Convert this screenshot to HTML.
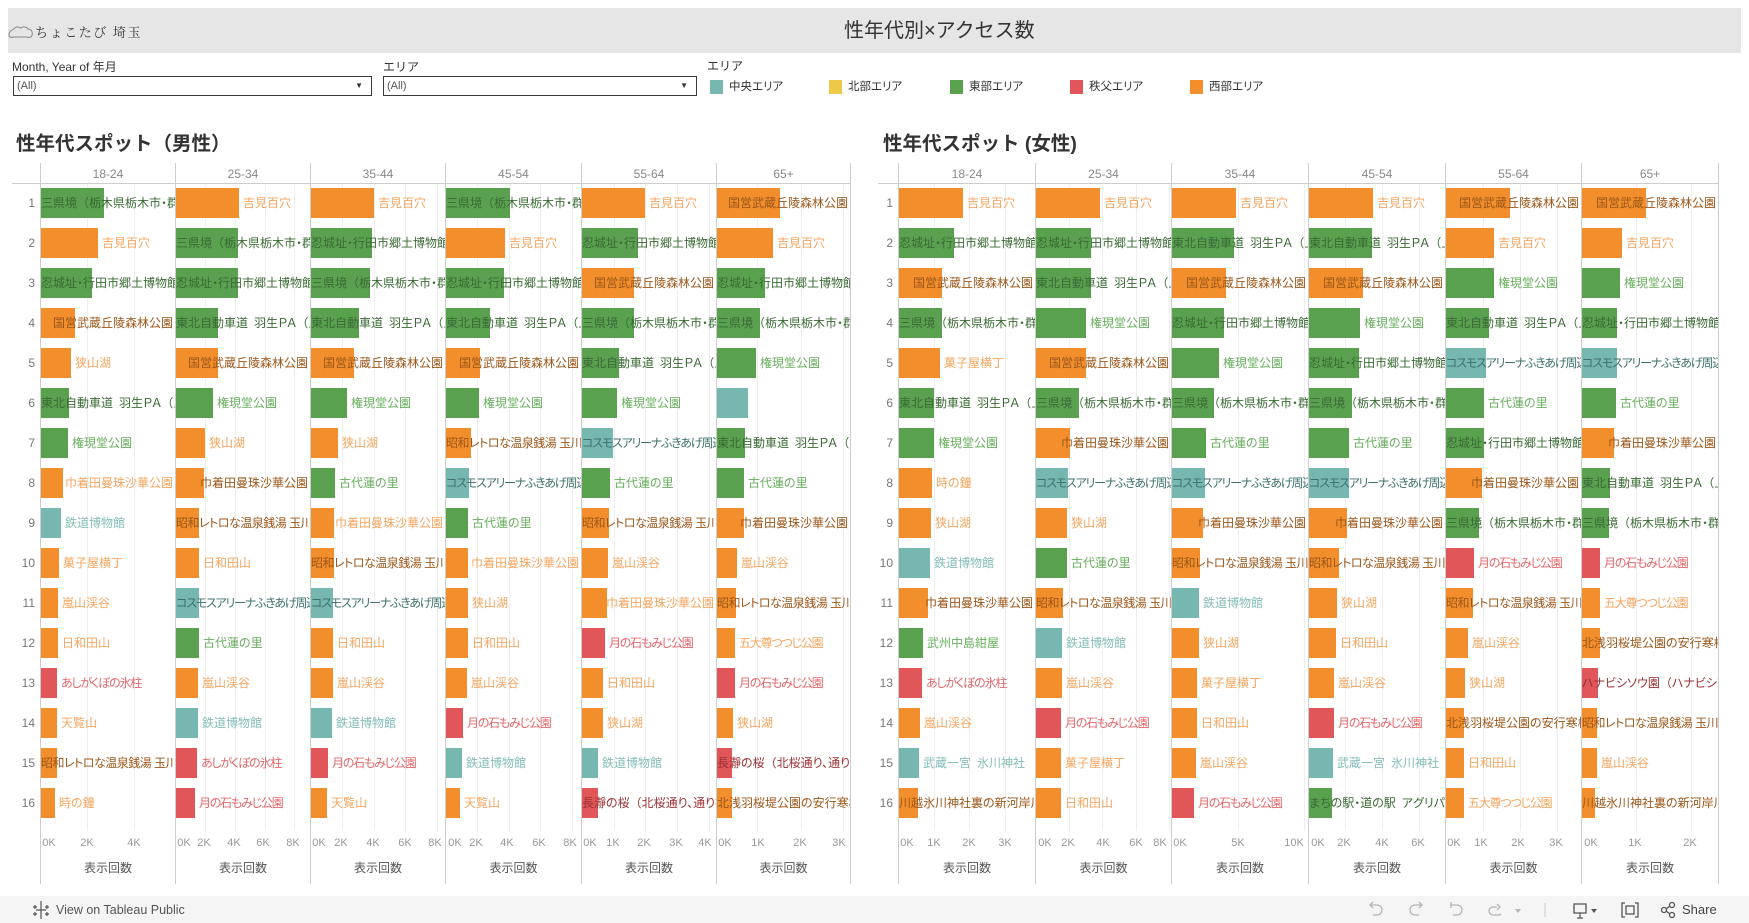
<!DOCTYPE html>
<html lang="ja">
<head>
<meta charset="utf-8">
<style>
*{box-sizing:border-box}
body{margin:0;width:1749px;height:923px;position:relative;overflow:hidden;background:#fff;font-family:"Liberation Sans","Noto Sans CJK JP",sans-serif;color:#333}
.a{position:absolute;white-space:nowrap}
.tb{position:absolute;left:8px;top:8px;width:1733px;height:45px;background:#e6e6e6}
.dd{position:absolute;top:76px;height:20px;border:1px solid #3a3a3a;background:#fff;font-size:11px;color:#555;line-height:18px;padding-left:3px}
.dd s{position:absolute;right:8px;top:0;text-decoration:none;font-size:8px;color:#333}
.sw{position:absolute;top:80px;width:13px;height:14px}
.lgt{position:absolute;top:78px;font-size:11.5px;line-height:18px;color:#333;font-feature-settings:"palt"}
.vl{position:absolute;top:163px;height:721px;width:1px;background:#cdcdcd}
.hl{position:absolute;top:183px;height:1px;background:#cdcdcd}
.gl{position:absolute;top:184px;height:647px;width:1px;background:#eeeeee}
.hd{position:absolute;top:164px;height:20px;line-height:20px;text-align:center;font-size:12px;color:#888}
.ax{position:absolute;top:859px;height:18px;line-height:18px;text-align:center;font-size:12px;color:#555}
.tk{position:absolute;top:836px;font-size:11px;line-height:14px;color:#999;transform:translateX(-50%);white-space:nowrap}
.rn{position:absolute;top:188px}
.rn div{height:40px;line-height:30px;text-align:right;font-size:12px;color:#777}
.col{position:absolute;top:188px}
.c{position:relative;height:30px;margin-bottom:10px;overflow:hidden}
.c b{position:absolute;left:0;top:0;height:30px;display:block;width:var(--w)}
.c p{margin:0;position:absolute;left:0;right:2px;top:0;height:30px;display:flex;white-space:nowrap;font-size:12px;line-height:30px;font-feature-settings:"palt"}
.c p i{flex:0 1 auto;min-width:0;display:block;width:calc(var(--w) + 4px)}
.c p span{flex:0 0 auto}
.c em{font-style:normal;font-feature-settings:normal}
.c .n{letter-spacing:-1.2px}
.c .m{letter-spacing:-0.5px}
.o{background:#f28e2b}.g{background:#59a14f}.t{background:#76b7b2}.r{background:#e15759}
.lo{color:#f5a55f}.lg{color:#68ae5e}.lt{color:#84bdb8}.lr{color:#e4686b}
.do{color:#9c5619}.dg{color:#3a6a34}.dt{color:#3d716d}.dr{color:#9b3033}
.bt{position:absolute;left:0;top:896px;width:1749px;height:27px;background:#f5f5f5}
</style>
</head>
<body>

<!-- Title bar -->
<div class="tb"></div>
<svg class="a" style="left:8px;top:24px" width="26" height="16" viewBox="0 0 26 16"><path d="M1 11 C1 7 4 6 6 5 C8 2 11 3 13 4 C15 2 19 3 20 5 C23 5 25 8 24 11 C24 13 21 14 19 13 L6 13 C3 14 1 13 1 11 Z" fill="none" stroke="#888" stroke-width="1"/></svg>
<div class="a" style="left:35px;top:22px;font-family:'Noto Serif CJK SC','Liberation Serif',serif;font-size:13px;letter-spacing:1.6px;line-height:20px;color:#333">ちょこたび 埼玉</div>
<div class="a" style="left:844px;top:18px;font-size:20px;line-height:26px;color:#333">性年代別×アクセス数</div>

<!-- Filters -->
<div class="a" style="left:12px;top:58px;font-size:12px;line-height:18px;color:#333">Month, Year of 年月</div>
<div class="dd" style="left:13px;width:359px">(All)<s>▼</s></div>
<div class="a" style="left:383px;top:58px;font-size:12px;line-height:18px;color:#333">エリア</div>
<div class="dd" style="left:383px;width:314px">(All)<s>▼</s></div>

<!-- Legend -->
<div class="a" style="left:707px;top:57px;font-size:12px;line-height:18px;color:#333">エリア</div>
<div class="sw t" style="left:710px"></div><div class="lgt" style="left:729px">中央エリア</div>
<div class="sw" style="left:829px;background:#edc948"></div><div class="lgt" style="left:848px">北部エリア</div>
<div class="sw g" style="left:950px"></div><div class="lgt" style="left:969px">東部エリア</div>
<div class="sw r" style="left:1070px"></div><div class="lgt" style="left:1089px">秩父エリア</div>
<div class="sw o" style="left:1190px"></div><div class="lgt" style="left:1209px">西部エリア</div>

<!-- Section titles -->
<div class="a" style="left:16px;top:132px;font-size:19.5px;font-weight:bold;line-height:24px;color:#333">性年代スポット（男性）</div>
<div class="a" style="left:883px;top:132px;font-size:19.5px;font-weight:bold;line-height:24px;color:#333">性年代スポット (女性)</div>

<!-- Gridlines male -->
<div class="gl" style="left:87px"></div><div class="gl" style="left:134px"></div>
<div class="gl" style="left:205px"></div><div class="gl" style="left:235px"></div><div class="gl" style="left:265px"></div><div class="gl" style="left:294px"></div>
<div class="gl" style="left:342px"></div><div class="gl" style="left:374px"></div><div class="gl" style="left:405px"></div><div class="gl" style="left:437px"></div>
<div class="gl" style="left:477px"></div><div class="gl" style="left:509px"></div><div class="gl" style="left:540px"></div><div class="gl" style="left:572px"></div>
<div class="gl" style="left:614px"></div><div class="gl" style="left:645px"></div><div class="gl" style="left:677px"></div><div class="gl" style="left:709px"></div>
<div class="gl" style="left:757px"></div><div class="gl" style="left:801px"></div><div class="gl" style="left:843px"></div>
<!-- Gridlines female -->
<div class="gl" style="left:934px"></div><div class="gl" style="left:969px"></div><div class="gl" style="left:1005px"></div>
<div class="gl" style="left:1069px"></div><div class="gl" style="left:1102px"></div><div class="gl" style="left:1136px"></div><div class="gl" style="left:1169px"></div>
<div class="gl" style="left:1238px"></div><div class="gl" style="left:1304px"></div>
<div class="gl" style="left:1345px"></div><div class="gl" style="left:1382px"></div><div class="gl" style="left:1419px"></div>
<div class="gl" style="left:1483px"></div><div class="gl" style="left:1520px"></div><div class="gl" style="left:1557px"></div>
<div class="gl" style="left:1636px"></div><div class="gl" style="left:1691px"></div>

<!-- Lines -->
<div class="hl" style="left:12px;width:839px"></div>
<div class="hl" style="left:878px;width:841px"></div>
<div class="vl" style="left:40px"></div><div class="vl" style="left:175px"></div><div class="vl" style="left:310px"></div><div class="vl" style="left:445px"></div><div class="vl" style="left:581px"></div><div class="vl" style="left:716px"></div><div class="vl" style="left:850px"></div>
<div class="vl" style="left:898px"></div><div class="vl" style="left:1035px"></div><div class="vl" style="left:1171px"></div><div class="vl" style="left:1308px"></div><div class="vl" style="left:1445px"></div><div class="vl" style="left:1581px"></div><div class="vl" style="left:1718px"></div>

<!-- Headers -->
<div class="hd" style="left:41px;width:134px">18-24</div>
<div class="hd" style="left:176px;width:134px">25-34</div>
<div class="hd" style="left:311px;width:134px">35-44</div>
<div class="hd" style="left:446px;width:135px">45-54</div>
<div class="hd" style="left:582px;width:134px">55-64</div>
<div class="hd" style="left:717px;width:133px">65+</div>
<div class="hd" style="left:899px;width:136px">18-24</div>
<div class="hd" style="left:1036px;width:135px">25-34</div>
<div class="hd" style="left:1172px;width:136px">35-44</div>
<div class="hd" style="left:1309px;width:136px">45-54</div>
<div class="hd" style="left:1446px;width:135px">55-64</div>
<div class="hd" style="left:1582px;width:136px">65+</div>

<!-- Row numbers -->
<div class="rn" style="left:10px;width:25px"><div>1</div><div>2</div><div>3</div><div>4</div><div>5</div><div>6</div><div>7</div><div>8</div><div>9</div><div>10</div><div>11</div><div>12</div><div>13</div><div>14</div><div>15</div><div>16</div></div>
<div class="rn" style="left:872px;width:21px"><div>1</div><div>2</div><div>3</div><div>4</div><div>5</div><div>6</div><div>7</div><div>8</div><div>9</div><div>10</div><div>11</div><div>12</div><div>13</div><div>14</div><div>15</div><div>16</div></div>

<!-- Male 18-24 -->
<div class="col" style="left:41px;width:134px">
<div class="c" style="--w:63px"><b class="g"></b><p><i></i><span class="dg">三県境<em>（</em>栃木県栃木市・群馬県板倉町・埼玉県加須市）</span></p></div>
<div class="c" style="--w:57px"><b class="o"></b><p><i></i><span class="lo">吉見百穴</span></p></div>
<div class="c" style="--w:51px"><b class="g"></b><p><i></i><span class="dg">忍城址・行田市郷土博物館</span></p></div>
<div class="c" style="--w:34px"><b class="o"></b><p><i></i><span class="do">国営武蔵丘陵森林公園</span></p></div>
<div class="c" style="--w:30px"><b class="o"></b><p><i></i><span class="lo">狭山湖</span></p></div>
<div class="c" style="--w:28px"><b class="g"></b><p><i></i><span class="dg">東北自動車道&ensp;羽生ＰＡ<em>（</em>上り）</span></p></div>
<div class="c" style="--w:27px"><b class="g"></b><p><i></i><span class="lg">権現堂公園</span></p></div>
<div class="c" style="--w:22px"><b class="o"></b><p><i></i><span class="lo">巾着田曼珠沙華公園</span></p></div>
<div class="c" style="--w:20px"><b class="t"></b><p><i></i><span class="lt">鉄道博物館</span></p></div>
<div class="c" style="--w:18px"><b class="o"></b><p><i></i><span class="lo">菓子屋横丁</span></p></div>
<div class="c" style="--w:17px"><b class="o"></b><p><i></i><span class="lo">嵐山渓谷</span></p></div>
<div class="c" style="--w:17px"><b class="o"></b><p><i></i><span class="lo">日和田山</span></p></div>
<div class="c" style="--w:16px"><b class="r"></b><p><i></i><span class="lr n">あしがくぼの氷柱</span></p></div>
<div class="c" style="--w:16px"><b class="o"></b><p><i></i><span class="lo">天覧山</span></p></div>
<div class="c" style="--w:16px"><b class="o"></b><p><i></i><span class="do m">昭和レトロな温泉銭湯 玉川温泉</span></p></div>
<div class="c" style="--w:14px"><b class="o"></b><p><i></i><span class="lo">時の鐘</span></p></div>
</div>

<!-- Male 25-34 -->
<div class="col" style="left:176px;width:134px">
<div class="c" style="--w:63px"><b class="o"></b><p><i></i><span class="lo">吉見百穴</span></p></div>
<div class="c" style="--w:62px"><b class="g"></b><p><i></i><span class="dg">三県境<em>（</em>栃木県栃木市・群馬県板倉町・埼玉県加須市）</span></p></div>
<div class="c" style="--w:62px"><b class="g"></b><p><i></i><span class="dg">忍城址・行田市郷土博物館</span></p></div>
<div class="c" style="--w:42px"><b class="g"></b><p><i></i><span class="dg">東北自動車道&ensp;羽生ＰＡ<em>（</em>上り）</span></p></div>
<div class="c" style="--w:42px"><b class="o"></b><p><i></i><span class="do">国営武蔵丘陵森林公園</span></p></div>
<div class="c" style="--w:37px"><b class="g"></b><p><i></i><span class="lg">権現堂公園</span></p></div>
<div class="c" style="--w:29px"><b class="o"></b><p><i></i><span class="lo">狭山湖</span></p></div>
<div class="c" style="--w:28px"><b class="o"></b><p><i></i><span class="do">巾着田曼珠沙華公園</span></p></div>
<div class="c" style="--w:23px"><b class="o"></b><p><i></i><span class="do m">昭和レトロな温泉銭湯 玉川温泉</span></p></div>
<div class="c" style="--w:23px"><b class="o"></b><p><i></i><span class="lo">日和田山</span></p></div>
<div class="c" style="--w:23px"><b class="t"></b><p><i></i><span class="dt n">コスモスアリーナふきあげ周辺</span></p></div>
<div class="c" style="--w:23px"><b class="g"></b><p><i></i><span class="lg">古代蓮の里</span></p></div>
<div class="c" style="--w:22px"><b class="o"></b><p><i></i><span class="lo">嵐山渓谷</span></p></div>
<div class="c" style="--w:22px"><b class="t"></b><p><i></i><span class="lt">鉄道博物館</span></p></div>
<div class="c" style="--w:21px"><b class="r"></b><p><i></i><span class="lr n">あしがくぼの氷柱</span></p></div>
<div class="c" style="--w:19px"><b class="r"></b><p><i></i><span class="lr n">月の石もみじ公園</span></p></div>
</div>

<!-- Male 35-44 -->
<div class="col" style="left:311px;width:134px">
<div class="c" style="--w:63px"><b class="o"></b><p><i></i><span class="lo">吉見百穴</span></p></div>
<div class="c" style="--w:61px"><b class="g"></b><p><i></i><span class="dg">忍城址・行田市郷土博物館</span></p></div>
<div class="c" style="--w:59px"><b class="g"></b><p><i></i><span class="dg">三県境<em>（</em>栃木県栃木市・群馬県板倉町・埼玉県加須市）</span></p></div>
<div class="c" style="--w:48px"><b class="g"></b><p><i></i><span class="dg">東北自動車道&ensp;羽生ＰＡ<em>（</em>上り）</span></p></div>
<div class="c" style="--w:43px"><b class="o"></b><p><i></i><span class="do">国営武蔵丘陵森林公園</span></p></div>
<div class="c" style="--w:36px"><b class="g"></b><p><i></i><span class="lg">権現堂公園</span></p></div>
<div class="c" style="--w:27px"><b class="o"></b><p><i></i><span class="lo">狭山湖</span></p></div>
<div class="c" style="--w:24px"><b class="g"></b><p><i></i><span class="lg">古代蓮の里</span></p></div>
<div class="c" style="--w:23px"><b class="o"></b><p><i></i><span class="lo">巾着田曼珠沙華公園</span></p></div>
<div class="c" style="--w:23px"><b class="o"></b><p><i></i><span class="do m">昭和レトロな温泉銭湯 玉川温泉</span></p></div>
<div class="c" style="--w:22px"><b class="t"></b><p><i></i><span class="dt n">コスモスアリーナふきあげ周辺</span></p></div>
<div class="c" style="--w:22px"><b class="o"></b><p><i></i><span class="lo">日和田山</span></p></div>
<div class="c" style="--w:22px"><b class="o"></b><p><i></i><span class="lo">嵐山渓谷</span></p></div>
<div class="c" style="--w:21px"><b class="t"></b><p><i></i><span class="lt">鉄道博物館</span></p></div>
<div class="c" style="--w:17px"><b class="r"></b><p><i></i><span class="lr n">月の石もみじ公園</span></p></div>
<div class="c" style="--w:16px"><b class="o"></b><p><i></i><span class="lo">天覧山</span></p></div>
</div>

<!-- Male 45-54 -->
<div class="col" style="left:446px;width:135px">
<div class="c" style="--w:64px"><b class="g"></b><p><i></i><span class="dg">三県境<em>（</em>栃木県栃木市・群馬県板倉町・埼玉県加須市）</span></p></div>
<div class="c" style="--w:59px"><b class="o"></b><p><i></i><span class="lo">吉見百穴</span></p></div>
<div class="c" style="--w:58px"><b class="g"></b><p><i></i><span class="dg">忍城址・行田市郷土博物館</span></p></div>
<div class="c" style="--w:44px"><b class="g"></b><p><i></i><span class="dg">東北自動車道&ensp;羽生ＰＡ<em>（</em>上り）</span></p></div>
<div class="c" style="--w:34px"><b class="o"></b><p><i></i><span class="do">国営武蔵丘陵森林公園</span></p></div>
<div class="c" style="--w:33px"><b class="g"></b><p><i></i><span class="lg">権現堂公園</span></p></div>
<div class="c" style="--w:25px"><b class="o"></b><p><i></i><span class="do m">昭和レトロな温泉銭湯 玉川温泉</span></p></div>
<div class="c" style="--w:23px"><b class="t"></b><p><i></i><span class="dt n">コスモスアリーナふきあげ周辺</span></p></div>
<div class="c" style="--w:22px"><b class="g"></b><p><i></i><span class="lg">古代蓮の里</span></p></div>
<div class="c" style="--w:22px"><b class="o"></b><p><i></i><span class="lo">巾着田曼珠沙華公園</span></p></div>
<div class="c" style="--w:22px"><b class="o"></b><p><i></i><span class="lo">狭山湖</span></p></div>
<div class="c" style="--w:22px"><b class="o"></b><p><i></i><span class="lo">日和田山</span></p></div>
<div class="c" style="--w:21px"><b class="o"></b><p><i></i><span class="lo">嵐山渓谷</span></p></div>
<div class="c" style="--w:17px"><b class="r"></b><p><i></i><span class="lr n">月の石もみじ公園</span></p></div>
<div class="c" style="--w:16px"><b class="t"></b><p><i></i><span class="lt">鉄道博物館</span></p></div>
<div class="c" style="--w:14px"><b class="o"></b><p><i></i><span class="lo">天覧山</span></p></div>
</div>

<!-- Male 55-64 -->
<div class="col" style="left:582px;width:134px">
<div class="c" style="--w:63px"><b class="o"></b><p><i></i><span class="lo">吉見百穴</span></p></div>
<div class="c" style="--w:56px"><b class="g"></b><p><i></i><span class="dg">忍城址・行田市郷土博物館</span></p></div>
<div class="c" style="--w:52px"><b class="o"></b><p><i></i><span class="do">国営武蔵丘陵森林公園</span></p></div>
<div class="c" style="--w:52px"><b class="g"></b><p><i></i><span class="dg">三県境<em>（</em>栃木県栃木市・群馬県板倉町・埼玉県加須市）</span></p></div>
<div class="c" style="--w:37px"><b class="g"></b><p><i></i><span class="dg">東北自動車道&ensp;羽生ＰＡ<em>（</em>上り）</span></p></div>
<div class="c" style="--w:35px"><b class="g"></b><p><i></i><span class="lg">権現堂公園</span></p></div>
<div class="c" style="--w:31px"><b class="t"></b><p><i></i><span class="dt n">コスモスアリーナふきあげ周辺</span></p></div>
<div class="c" style="--w:28px"><b class="g"></b><p><i></i><span class="lg">古代蓮の里</span></p></div>
<div class="c" style="--w:27px"><b class="o"></b><p><i></i><span class="do m">昭和レトロな温泉銭湯 玉川温泉</span></p></div>
<div class="c" style="--w:26px"><b class="o"></b><p><i></i><span class="lo">嵐山渓谷</span></p></div>
<div class="c" style="--w:25px"><b class="o"></b><p><i></i><span class="lo">巾着田曼珠沙華公園</span></p></div>
<div class="c" style="--w:23px"><b class="r"></b><p><i></i><span class="lr n">月の石もみじ公園</span></p></div>
<div class="c" style="--w:21px"><b class="o"></b><p><i></i><span class="lo">日和田山</span></p></div>
<div class="c" style="--w:21px"><b class="o"></b><p><i></i><span class="lo">狭山湖</span></p></div>
<div class="c" style="--w:16px"><b class="t"></b><p><i></i><span class="lt">鉄道博物館</span></p></div>
<div class="c" style="--w:16px"><b class="r"></b><p><i></i><span class="dr">長瀞の桜<em>（</em>北桜通り、通り抜け）</span></p></div>
</div>

<!-- Male 65+ -->
<div class="col" style="left:717px;width:133px">
<div class="c" style="--w:63px"><b class="o"></b><p><i></i><span class="do">国営武蔵丘陵森林公園</span></p></div>
<div class="c" style="--w:56px"><b class="o"></b><p><i></i><span class="lo">吉見百穴</span></p></div>
<div class="c" style="--w:48px"><b class="g"></b><p><i></i><span class="dg">忍城址・行田市郷土博物館</span></p></div>
<div class="c" style="--w:43px"><b class="g"></b><p><i></i><span class="dg">三県境<em>（</em>栃木県栃木市・群馬県板倉町・埼玉県加須市）</span></p></div>
<div class="c" style="--w:39px"><b class="g"></b><p><i></i><span class="lg">権現堂公園</span></p></div>
<div class="c" style="--w:31px"><b class="t"></b></div>
<div class="c" style="--w:28px"><b class="g"></b><p><i></i><span class="dg">東北自動車道&ensp;羽生ＰＡ<em>（</em>上り）</span></p></div>
<div class="c" style="--w:27px"><b class="g"></b><p><i></i><span class="lg">古代蓮の里</span></p></div>
<div class="c" style="--w:27px"><b class="o"></b><p><i></i><span class="do">巾着田曼珠沙華公園</span></p></div>
<div class="c" style="--w:20px"><b class="o"></b><p><i></i><span class="lo">嵐山渓谷</span></p></div>
<div class="c" style="--w:19px"><b class="o"></b><p><i></i><span class="do m">昭和レトロな温泉銭湯 玉川温泉</span></p></div>
<div class="c" style="--w:18px"><b class="o"></b><p><i></i><span class="lo n">五大尊つつじ公園</span></p></div>
<div class="c" style="--w:18px"><b class="r"></b><p><i></i><span class="lr n">月の石もみじ公園</span></p></div>
<div class="c" style="--w:16px"><b class="o"></b><p><i></i><span class="lo">狭山湖</span></p></div>
<div class="c" style="--w:15px"><b class="r"></b><p><i></i><span class="dr">長瀞の桜<em>（</em>北桜通り、通り抜け）</span></p></div>
<div class="c" style="--w:15px"><b class="o"></b><p><i></i><span class="do">北浅羽桜堤公園の安行寒桜</span></p></div>
</div>

<!-- Female 18-24 -->
<div class="col" style="left:899px;width:136px">
<div class="c" style="--w:64px"><b class="o"></b><p><i></i><span class="lo">吉見百穴</span></p></div>
<div class="c" style="--w:55px"><b class="g"></b><p><i></i><span class="dg">忍城址・行田市郷土博物館</span></p></div>
<div class="c" style="--w:43px"><b class="o"></b><p><i></i><span class="do">国営武蔵丘陵森林公園</span></p></div>
<div class="c" style="--w:43px"><b class="g"></b><p><i></i><span class="dg">三県境<em>（</em>栃木県栃木市・群馬県板倉町・埼玉県加須市）</span></p></div>
<div class="c" style="--w:41px"><b class="o"></b><p><i></i><span class="lo">菓子屋横丁</span></p></div>
<div class="c" style="--w:35px"><b class="g"></b><p><i></i><span class="dg">東北自動車道&ensp;羽生ＰＡ<em>（</em>上り）</span></p></div>
<div class="c" style="--w:35px"><b class="g"></b><p><i></i><span class="lg">権現堂公園</span></p></div>
<div class="c" style="--w:33px"><b class="o"></b><p><i></i><span class="lo">時の鐘</span></p></div>
<div class="c" style="--w:32px"><b class="o"></b><p><i></i><span class="lo">狭山湖</span></p></div>
<div class="c" style="--w:31px"><b class="t"></b><p><i></i><span class="lt">鉄道博物館</span></p></div>
<div class="c" style="--w:29px"><b class="o"></b><p><i></i><span class="do">巾着田曼珠沙華公園</span></p></div>
<div class="c" style="--w:24px"><b class="g"></b><p><i></i><span class="lg">武州中島紺屋</span></p></div>
<div class="c" style="--w:23px"><b class="r"></b><p><i></i><span class="lr n">あしがくぼの氷柱</span></p></div>
<div class="c" style="--w:21px"><b class="o"></b><p><i></i><span class="lo">嵐山渓谷</span></p></div>
<div class="c" style="--w:20px"><b class="t"></b><p><i></i><span class="lt">武蔵一宮&ensp;氷川神社</span></p></div>
<div class="c" style="--w:19px"><b class="o"></b><p><i></i><span class="do">川越氷川神社裏の新河岸川</span></p></div>
</div>

<!-- Female 25-34 -->
<div class="col" style="left:1036px;width:135px">
<div class="c" style="--w:64px"><b class="o"></b><p><i></i><span class="lo">吉見百穴</span></p></div>
<div class="c" style="--w:55px"><b class="g"></b><p><i></i><span class="dg">忍城址・行田市郷土博物館</span></p></div>
<div class="c" style="--w:55px"><b class="g"></b><p><i></i><span class="dg">東北自動車道&ensp;羽生ＰＡ<em>（</em>上り）</span></p></div>
<div class="c" style="--w:50px"><b class="g"></b><p><i></i><span class="lg">権現堂公園</span></p></div>
<div class="c" style="--w:50px"><b class="o"></b><p><i></i><span class="do">国営武蔵丘陵森林公園</span></p></div>
<div class="c" style="--w:43px"><b class="g"></b><p><i></i><span class="dg">三県境<em>（</em>栃木県栃木市・群馬県板倉町・埼玉県加須市）</span></p></div>
<div class="c" style="--w:34px"><b class="o"></b><p><i></i><span class="do">巾着田曼珠沙華公園</span></p></div>
<div class="c" style="--w:32px"><b class="t"></b><p><i></i><span class="dt n">コスモスアリーナふきあげ周辺</span></p></div>
<div class="c" style="--w:31px"><b class="o"></b><p><i></i><span class="lo">狭山湖</span></p></div>
<div class="c" style="--w:31px"><b class="g"></b><p><i></i><span class="lg">古代蓮の里</span></p></div>
<div class="c" style="--w:27px"><b class="o"></b><p><i></i><span class="do m">昭和レトロな温泉銭湯 玉川温泉</span></p></div>
<div class="c" style="--w:26px"><b class="t"></b><p><i></i><span class="lt">鉄道博物館</span></p></div>
<div class="c" style="--w:26px"><b class="o"></b><p><i></i><span class="lo">嵐山渓谷</span></p></div>
<div class="c" style="--w:25px"><b class="r"></b><p><i></i><span class="lr n">月の石もみじ公園</span></p></div>
<div class="c" style="--w:25px"><b class="o"></b><p><i></i><span class="lo">菓子屋横丁</span></p></div>
<div class="c" style="--w:25px"><b class="o"></b><p><i></i><span class="lo">日和田山</span></p></div>
</div>

<!-- Female 35-44 -->
<div class="col" style="left:1172px;width:136px">
<div class="c" style="--w:64px"><b class="o"></b><p><i></i><span class="lo">吉見百穴</span></p></div>
<div class="c" style="--w:62px"><b class="g"></b><p><i></i><span class="dg">東北自動車道&ensp;羽生ＰＡ<em>（</em>上り）</span></p></div>
<div class="c" style="--w:54px"><b class="o"></b><p><i></i><span class="do">国営武蔵丘陵森林公園</span></p></div>
<div class="c" style="--w:52px"><b class="g"></b><p><i></i><span class="dg">忍城址・行田市郷土博物館</span></p></div>
<div class="c" style="--w:47px"><b class="g"></b><p><i></i><span class="lg">権現堂公園</span></p></div>
<div class="c" style="--w:42px"><b class="g"></b><p><i></i><span class="dg">三県境<em>（</em>栃木県栃木市・群馬県板倉町・埼玉県加須市）</span></p></div>
<div class="c" style="--w:34px"><b class="g"></b><p><i></i><span class="lg">古代蓮の里</span></p></div>
<div class="c" style="--w:33px"><b class="t"></b><p><i></i><span class="dt n">コスモスアリーナふきあげ周辺</span></p></div>
<div class="c" style="--w:31px"><b class="o"></b><p><i></i><span class="do">巾着田曼珠沙華公園</span></p></div>
<div class="c" style="--w:28px"><b class="o"></b><p><i></i><span class="do m">昭和レトロな温泉銭湯 玉川温泉</span></p></div>
<div class="c" style="--w:27px"><b class="t"></b><p><i></i><span class="lt">鉄道博物館</span></p></div>
<div class="c" style="--w:27px"><b class="o"></b><p><i></i><span class="lo">狭山湖</span></p></div>
<div class="c" style="--w:25px"><b class="o"></b><p><i></i><span class="lo">菓子屋横丁</span></p></div>
<div class="c" style="--w:25px"><b class="o"></b><p><i></i><span class="lo">日和田山</span></p></div>
<div class="c" style="--w:24px"><b class="o"></b><p><i></i><span class="lo">嵐山渓谷</span></p></div>
<div class="c" style="--w:22px"><b class="r"></b><p><i></i><span class="lr n">月の石もみじ公園</span></p></div>
</div>

<!-- Female 45-54 -->
<div class="col" style="left:1309px;width:136px">
<div class="c" style="--w:64px"><b class="o"></b><p><i></i><span class="lo">吉見百穴</span></p></div>
<div class="c" style="--w:63px"><b class="g"></b><p><i></i><span class="dg">東北自動車道&ensp;羽生ＰＡ<em>（</em>上り）</span></p></div>
<div class="c" style="--w:54px"><b class="o"></b><p><i></i><span class="do">国営武蔵丘陵森林公園</span></p></div>
<div class="c" style="--w:51px"><b class="g"></b><p><i></i><span class="lg">権現堂公園</span></p></div>
<div class="c" style="--w:50px"><b class="g"></b><p><i></i><span class="dg">忍城址・行田市郷土博物館</span></p></div>
<div class="c" style="--w:43px"><b class="g"></b><p><i></i><span class="dg">三県境<em>（</em>栃木県栃木市・群馬県板倉町・埼玉県加須市）</span></p></div>
<div class="c" style="--w:40px"><b class="g"></b><p><i></i><span class="lg">古代蓮の里</span></p></div>
<div class="c" style="--w:40px"><b class="t"></b><p><i></i><span class="dt n">コスモスアリーナふきあげ周辺</span></p></div>
<div class="c" style="--w:38px"><b class="o"></b><p><i></i><span class="do">巾着田曼珠沙華公園</span></p></div>
<div class="c" style="--w:30px"><b class="o"></b><p><i></i><span class="do m">昭和レトロな温泉銭湯 玉川温泉</span></p></div>
<div class="c" style="--w:28px"><b class="o"></b><p><i></i><span class="lo">狭山湖</span></p></div>
<div class="c" style="--w:27px"><b class="o"></b><p><i></i><span class="lo">日和田山</span></p></div>
<div class="c" style="--w:25px"><b class="o"></b><p><i></i><span class="lo">嵐山渓谷</span></p></div>
<div class="c" style="--w:25px"><b class="r"></b><p><i></i><span class="lr n">月の石もみじ公園</span></p></div>
<div class="c" style="--w:24px"><b class="t"></b><p><i></i><span class="lt">武蔵一宮&ensp;氷川神社</span></p></div>
<div class="c" style="--w:23px"><b class="g"></b><p><i></i><span class="dg">まちの駅・道の駅&ensp;アグリパーク</span></p></div>
</div>

<!-- Female 55-64 -->
<div class="col" style="left:1446px;width:135px">
<div class="c" style="--w:64px"><b class="o"></b><p><i></i><span class="do">国営武蔵丘陵森林公園</span></p></div>
<div class="c" style="--w:48px"><b class="o"></b><p><i></i><span class="lo">吉見百穴</span></p></div>
<div class="c" style="--w:48px"><b class="g"></b><p><i></i><span class="lg">権現堂公園</span></p></div>
<div class="c" style="--w:43px"><b class="g"></b><p><i></i><span class="dg">東北自動車道&ensp;羽生ＰＡ<em>（</em>上り）</span></p></div>
<div class="c" style="--w:40px"><b class="t"></b><p><i></i><span class="dt n">コスモスアリーナふきあげ周辺</span></p></div>
<div class="c" style="--w:38px"><b class="g"></b><p><i></i><span class="lg">古代蓮の里</span></p></div>
<div class="c" style="--w:38px"><b class="g"></b><p><i></i><span class="dg">忍城址・行田市郷土博物館</span></p></div>
<div class="c" style="--w:36px"><b class="o"></b><p><i></i><span class="do">巾着田曼珠沙華公園</span></p></div>
<div class="c" style="--w:33px"><b class="g"></b><p><i></i><span class="dg">三県境<em>（</em>栃木県栃木市・群馬県板倉町・埼玉県加須市）</span></p></div>
<div class="c" style="--w:28px"><b class="r"></b><p><i></i><span class="lr n">月の石もみじ公園</span></p></div>
<div class="c" style="--w:27px"><b class="o"></b><p><i></i><span class="do m">昭和レトロな温泉銭湯 玉川温泉</span></p></div>
<div class="c" style="--w:22px"><b class="o"></b><p><i></i><span class="lo">嵐山渓谷</span></p></div>
<div class="c" style="--w:19px"><b class="o"></b><p><i></i><span class="lo">狭山湖</span></p></div>
<div class="c" style="--w:18px"><b class="o"></b><p><i></i><span class="do">北浅羽桜堤公園の安行寒桜</span></p></div>
<div class="c" style="--w:18px"><b class="o"></b><p><i></i><span class="lo">日和田山</span></p></div>
<div class="c" style="--w:18px"><b class="o"></b><p><i></i><span class="lo n">五大尊つつじ公園</span></p></div>
</div>

<!-- Female 65+ -->
<div class="col" style="left:1582px;width:136px">
<div class="c" style="--w:64px"><b class="o"></b><p><i></i><span class="do">国営武蔵丘陵森林公園</span></p></div>
<div class="c" style="--w:40px"><b class="o"></b><p><i></i><span class="lo">吉見百穴</span></p></div>
<div class="c" style="--w:38px"><b class="g"></b><p><i></i><span class="lg">権現堂公園</span></p></div>
<div class="c" style="--w:35px"><b class="g"></b><p><i></i><span class="dg">忍城址・行田市郷土博物館</span></p></div>
<div class="c" style="--w:35px"><b class="t"></b><p><i></i><span class="dt n">コスモスアリーナふきあげ周辺</span></p></div>
<div class="c" style="--w:34px"><b class="g"></b><p><i></i><span class="lg">古代蓮の里</span></p></div>
<div class="c" style="--w:32px"><b class="o"></b><p><i></i><span class="do">巾着田曼珠沙華公園</span></p></div>
<div class="c" style="--w:28px"><b class="g"></b><p><i></i><span class="dg">東北自動車道&ensp;羽生ＰＡ<em>（</em>上り）</span></p></div>
<div class="c" style="--w:27px"><b class="g"></b><p><i></i><span class="dg">三県境<em>（</em>栃木県栃木市・群馬県板倉町・埼玉県加須市）</span></p></div>
<div class="c" style="--w:18px"><b class="r"></b><p><i></i><span class="lr n">月の石もみじ公園</span></p></div>
<div class="c" style="--w:18px"><b class="o"></b><p><i></i><span class="lo n">五大尊つつじ公園</span></p></div>
<div class="c" style="--w:18px"><b class="o"></b><p><i></i><span class="do">北浅羽桜堤公園の安行寒桜</span></p></div>
<div class="c" style="--w:16px"><b class="r"></b><p><i></i><span class="dr">ハナビシソウ園<em>（</em>ハナビシソウ祭り）</span></p></div>
<div class="c" style="--w:15px"><b class="o"></b><p><i></i><span class="do m">昭和レトロな温泉銭湯 玉川温泉</span></p></div>
<div class="c" style="--w:15px"><b class="o"></b><p><i></i><span class="lo">嵐山渓谷</span></p></div>
<div class="c" style="--w:13px"><b class="o"></b><p><i></i><span class="do">川越氷川神社裏の新河岸川</span></p></div>
</div>

<!-- Tick labels male -->
<div class="tk" style="left:49px">0K</div><div class="tk" style="left:87px">2K</div><div class="tk" style="left:134px">4K</div>
<div class="tk" style="left:184px">0K</div><div class="tk" style="left:204px">2K</div><div class="tk" style="left:234px">4K</div><div class="tk" style="left:263px">6K</div><div class="tk" style="left:293px">8K</div>
<div class="tk" style="left:319px">0K</div><div class="tk" style="left:341px">2K</div><div class="tk" style="left:373px">4K</div><div class="tk" style="left:405px">6K</div><div class="tk" style="left:435px">8K</div>
<div class="tk" style="left:455px">0K</div><div class="tk" style="left:476px">2K</div><div class="tk" style="left:507px">4K</div><div class="tk" style="left:539px">6K</div><div class="tk" style="left:570px">8K</div>
<div class="tk" style="left:590px">0K</div><div class="tk" style="left:613px">1K</div><div class="tk" style="left:644px">2K</div><div class="tk" style="left:676px">3K</div><div class="tk" style="left:705px">4K</div>
<div class="tk" style="left:725px">0K</div><div class="tk" style="left:758px">1K</div><div class="tk" style="left:800px">2K</div><div class="tk" style="left:839px">3K</div>
<!-- Tick labels female -->
<div class="tk" style="left:907px">0K</div><div class="tk" style="left:934px">1K</div><div class="tk" style="left:969px">2K</div><div class="tk" style="left:1005px">3K</div>
<div class="tk" style="left:1045px">0K</div><div class="tk" style="left:1068px">2K</div><div class="tk" style="left:1103px">4K</div><div class="tk" style="left:1136px">6K</div><div class="tk" style="left:1160px">8K</div>
<div class="tk" style="left:1180px">0K</div><div class="tk" style="left:1238px">5K</div><div class="tk" style="left:1294px">10K</div>
<div class="tk" style="left:1318px">0K</div><div class="tk" style="left:1344px">2K</div><div class="tk" style="left:1382px">4K</div><div class="tk" style="left:1418px">6K</div>
<div class="tk" style="left:1454px">0K</div><div class="tk" style="left:1481px">1K</div><div class="tk" style="left:1518px">2K</div><div class="tk" style="left:1556px">3K</div>
<div class="tk" style="left:1591px">0K</div><div class="tk" style="left:1635px">1K</div><div class="tk" style="left:1690px">2K</div>

<!-- Axis titles -->
<div class="ax" style="left:41px;width:134px">表示回数</div>
<div class="ax" style="left:176px;width:134px">表示回数</div>
<div class="ax" style="left:311px;width:134px">表示回数</div>
<div class="ax" style="left:446px;width:135px">表示回数</div>
<div class="ax" style="left:582px;width:134px">表示回数</div>
<div class="ax" style="left:717px;width:133px">表示回数</div>
<div class="ax" style="left:899px;width:136px">表示回数</div>
<div class="ax" style="left:1036px;width:135px">表示回数</div>
<div class="ax" style="left:1172px;width:136px">表示回数</div>
<div class="ax" style="left:1309px;width:136px">表示回数</div>
<div class="ax" style="left:1446px;width:135px">表示回数</div>
<div class="ax" style="left:1582px;width:136px">表示回数</div>

<!-- Bottom toolbar -->
<div class="bt"></div>
<svg class="a" style="left:31px;top:901px" width="20" height="18" viewBox="0 0 20 18">
<g stroke="#555" stroke-width="1.2" fill="none">
<path d="M10 2v14M5 9h10"/><path d="M4 4v4M2 6h4"/><path d="M16 4v4M14 6h4"/><path d="M4 11v4M2 13h4"/><path d="M16 11v4M14 13h4"/><path d="M10 0v2M10 16v2"/>
</g></svg>
<div class="a" style="left:56px;top:902px;font-size:12.5px;line-height:16px;color:#555">View on Tableau Public</div>
<svg class="a" style="left:1365px;top:898px" width="384" height="24" viewBox="0 0 384 24">
<g fill="none" stroke="#b5b5b5" stroke-width="1.3">
<path d="M6 7 h6 a5 5 0 0 1 0 10 h-4"/><path d="M8 4 l-3 3 l3 3"/>
<path d="M56 7 h-6 a5 5 0 0 0 0 10 h4"/><path d="M54 4 l3 3 l-3 3"/>
<path d="M86 4 v6"/><path d="M86 7 h6 a5 5 0 0 1 0 10 h-4"/>
<path d="M132 9 h-4 a4 4 0 0 0 0 8 h6 a4 4 0 0 0 2 -1"/><path d="M132 6 l3 3 l-3 3"/>
</g>
<path d="M150 11 h6 l-3 4 z" fill="#b5b5b5"/>
<path d="M180 5 v14" stroke="#ccc" stroke-width="1"/>
<g fill="none" stroke="#555" stroke-width="1.3">
<path d="M209 6 h12 v9 h-12 z"/><path d="M215 15 v5 M212 20 h6"/>
<path d="M260 5 h-3 v14 h3 M270 5 h3 v14 h-3"/><path d="M261 8 h8 v8 h-8 z"/>
<circle cx="299" cy="12" r="2.5"/><circle cx="307" cy="7" r="2.5"/><circle cx="307" cy="17" r="2.5"/><path d="M301 11 l4 -3 M301 13 l4 3"/>
</g>
<path d="M226 11 h6 l-3 4 z" fill="#555"/>
</svg>
<div class="a" style="left:1682px;top:902px;font-size:13px;line-height:16px;color:#444">Share</div>

</body>
</html>
